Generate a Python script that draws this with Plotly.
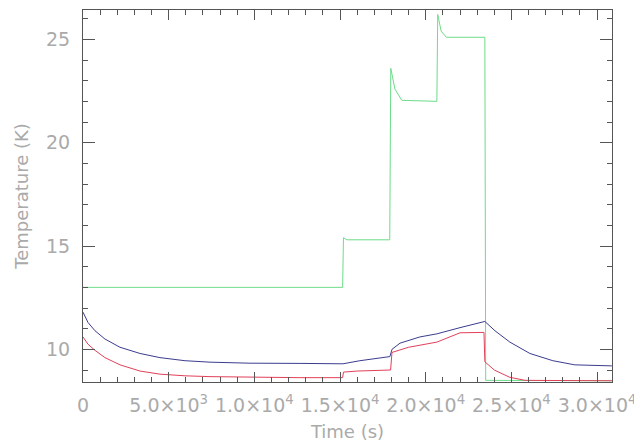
import plotly.graph_objects as go

# Time (s) and temperatures (K)
blue_t = [0, 290, 700, 1280, 2160, 3330, 4490, 5950, 7410, 9740, 12660, 15170,
          16160, 17910, 18030, 18500, 19660, 20650, 22000, 23340, 23450,
          24040, 24910, 26080, 27420, 28700, 30860]
blue_T = [11.8, 11.3, 10.9, 10.5, 10.1, 9.8, 9.6, 9.45, 9.38, 9.33, 9.32, 9.3,
          9.45, 9.65, 10.0, 10.3, 10.6, 10.75, 11.05, 11.3, 11.35,
          10.9, 10.35, 9.8, 9.45, 9.25, 9.2]

red_t = [0, 290, 700, 1280, 2160, 3330, 4490, 5950, 7410, 9740, 12660, 15150,
         15200, 16000, 17950, 18030, 19000, 20650, 22000, 23400, 23450,
         24000, 24900, 25800, 30860]
red_T = [10.6, 10.25, 9.95, 9.6, 9.25, 8.95, 8.8, 8.72, 8.68, 8.65, 8.63, 8.63,
         8.9, 8.95, 9.0, 9.85, 10.1, 10.35, 10.8, 10.82, 9.4,
         9.0, 8.65, 8.5, 8.48]

green_t = [0, 15150, 15200, 15400, 17900, 17960, 18200, 18600, 20650, 20700,
           20900, 21200, 23450, 23500, 30860]
green_T = [13.0, 13.0, 15.4, 15.3, 15.3, 23.6, 22.6, 22.05, 22.0, 26.2,
           25.4, 25.1, 25.1, 8.5, 8.48]

x_tickvals = [0, 5000, 10000, 15000, 20000, 25000, 30000]
x_ticktext = ["0", "5.0×10<sup>3</sup>", "1.0×10<sup>4</sup>", "1.5×10<sup>4</sup>",
              "2.0×10<sup>4</sup>", "2.5×10<sup>4</sup>", "3.0×10<sup>4</sup>"]
y_tickvals = [10, 15, 20, 25]

fig = go.Figure()
fig.add_trace(go.Scatter(x=green_t, y=green_T, mode="lines",
                         line=dict(color="#6ddc8a", width=1)))
fig.add_trace(go.Scatter(x=red_t, y=red_T, mode="lines",
                         line=dict(color="#e0405a", width=1)))
fig.add_trace(go.Scatter(x=blue_t, y=blue_T, mode="lines",
                         line=dict(color="#3c3c90", width=1)))

txt = "#aaaaaa"
fnt = "DejaVu Sans"
axis_common = dict(showgrid=False, zeroline=False, showline=True,
                   linecolor="#555555", linewidth=1, mirror="ticks",
                   ticks="inside", tickcolor="#555555", tickwidth=1,
                   automargin=False)

fig.update_xaxes(range=[0, 30870], tickvals=x_tickvals, ticktext=x_ticktext,
                 ticklen=10, ticklabelstandoff=6,
                 tickfont=dict(color=txt, size=19, family=fnt),
                 minor=dict(dtick=1000, ticklen=5, ticks="inside", tickcolor="#555555"),
                 title=dict(text="Time (s)", font=dict(color=txt, size=18, family=fnt),
                            standoff=10),
                 **axis_common)
fig.update_yaxes(range=[8.42, 26.42], tickvals=y_tickvals, ticklen=12,
                 ticklabelstandoff=8,
                 tickfont=dict(color=txt, size=19, family=fnt),
                 minor=dict(dtick=1, ticklen=5, ticks="inside", tickcolor="#555555"),
                 title=dict(text="Temperature (K)", font=dict(color=txt, size=18, family=fnt),
                            standoff=12),
                 **axis_common)

fig.update_layout(width=642, height=446, showlegend=False,
                  margin=dict(l=75, r=38, t=2, b=72),
                  plot_bgcolor="white", paper_bgcolor="white")

fig.write_html("out.html")
